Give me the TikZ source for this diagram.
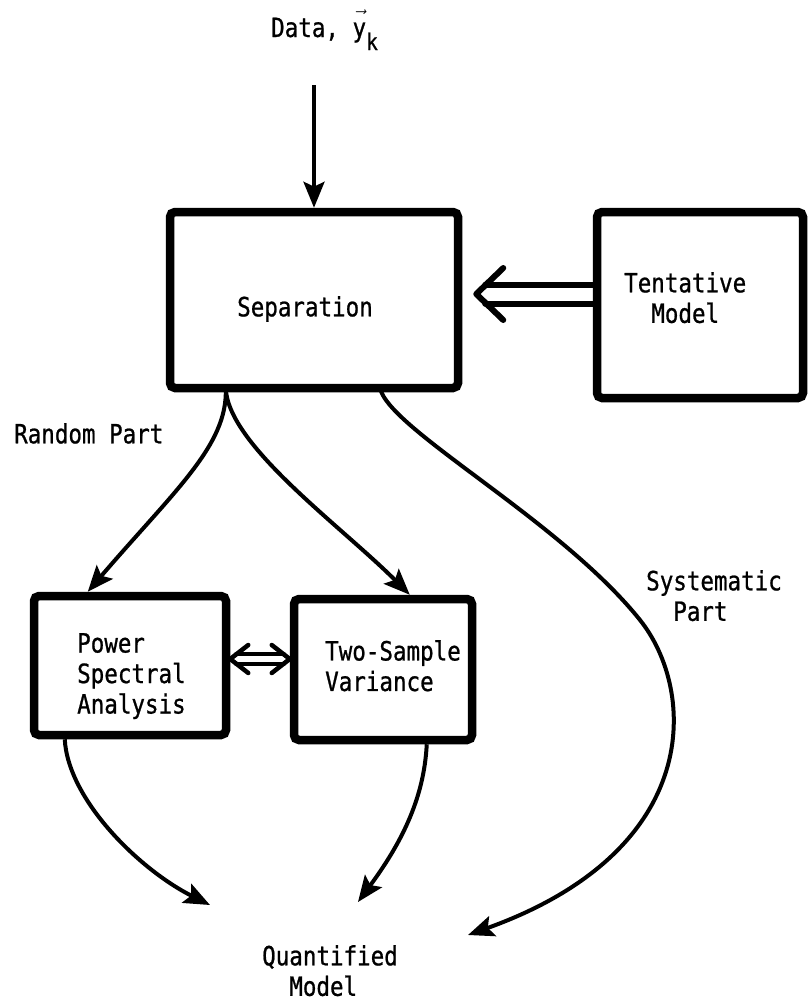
\documentclass[tikz,border=0pt]{standalone}
\usepackage{fontspec}
\newfontfamily\lbfont[FakeStretch=0.85,FakeBold=0.8]{DejaVu Sans Mono}
\usetikzlibrary{arrows.meta,calc}
\begin{document}
\begin{tikzpicture}[x=1pt,y=-1pt,
  box/.style={draw, line width=8.5pt, rounded corners=5pt, inner sep=0pt},
  conn/.style={line width=4pt, -{Stealth[length=26pt,width=21pt,inset=5pt]}},
  lbl/.style={inner sep=0pt, align=left, font=\lbfont\fontsize{26.5}{30.5}\selectfont},
  dbl/.style={line width=6pt, line cap=round, line join=round},
  dbls/.style={line width=4.5pt, line cap=round, line join=round},
]
\useasboundingbox (0,0) rectangle (809,1002);

% boxes
\node[box, minimum width=288pt, minimum height=176pt] (sep) at (314,300) {};
\node[box, minimum width=206pt, minimum height=186pt] (tent) at (700,305) {};
\node[box, minimum width=192pt, minimum height=139pt] (pw) at (130,665.5) {};
\node[box, minimum width=178pt, minimum height=141pt] (ts) at (383,669.5) {};

% texts
\node[lbl, anchor=base west] (data) at (271,37) {Data, $\vec{\mbox{y\vphantom{l}}}$\raisebox{-13pt}{\fontsize{23}{23}\selectfont k}};
\node[lbl, anchor=north west] (septxt) at (237,296) {Separation};
\node[lbl, anchor=north west] (tenttxt) at (624,272) {Tentative\\\phantom{xx}Model};
\node[lbl, anchor=north west] (pwtxt) at (77,633) {Power\\Spectral\\Analysis};
\node[lbl, anchor=north west] (tstxt) at (325,640) {Two-Sample\\Variance};
\node[lbl, anchor=north west] (rand) at (14,423) {Random Part};
\node[lbl, anchor=north west] (syst) at (646,570) {Systematic\\\phantom{xx}Part};
\node[lbl, anchor=north west] (qm) at (262,945) {Quantified\\\phantom{xx}Model};

% data input
\draw[conn] ($(data.base -| sep.north)+(0,48)$) -- (sep.north);

% tentative model -> separation (double arrow)
\coordinate (stip) at ($(sep.east)+(14,-6)$);
\coordinate (su) at ($(stip)+(0,-9.5)$);
\coordinate (sd) at ($(stip)+(0,9.5)$);
\draw[dbl] ($(stip)+(27,-26)$) -- (stip) -- ($(stip)+(27,26)$);
\draw[dbl] ($(su)+(9,0)$) -- (tent.west |- su);
\draw[dbl] ($(sd)+(9,0)$) -- (tent.west |- sd);

% power <-> two-sample
\coordinate (mid) at (0,659);
\coordinate (pl) at (pw.east |- mid);
\coordinate (pr) at (ts.west |- mid);
\draw[dbls] ($(pl)+(18,-14)$) -- (pl) -- ($(pl)+(18,14)$);
\draw[dbls] ($(pr)+(-18,-14)$) -- (pr) -- ($(pr)+(-18,14)$);
\draw[dbls] ($(pl)+(6,-5)$) -- ($(pr)+(-6,-5)$);
\draw[dbls] ($(pl)+(6,5)$) -- ($(pr)+(-6,5)$);

% random part branches
\coordinate (br) at ($(sep.south west)+(60,-4)$);
\draw[conn] (br) .. controls (228,445) and (175,490) .. ($(pw.north west)+(58,0)$);
\draw[conn] (br) .. controls (228,445) and (340,525) .. ($(ts.north west)+(120,0)$);

% systematic part
\draw[conn] ($(sep.south)+(66,-4)$) .. controls (390,430) and (560,520) .. (640,620)
  .. controls (696,690) and (705,850) .. ($(qm.north east)+(70,-10)$);

% to quantified model
\draw[conn] ($(pw.south west)+(35,0)$) .. controls (68,800) and (140,870) .. ($(qm.north west)+(-52,-40)$);
\draw[conn] ($(ts.south west)+(137,0)$) .. controls (424,800) and (400,845) .. ($(qm.north west)+(96,-43)$);
\end{tikzpicture}
\end{document}
